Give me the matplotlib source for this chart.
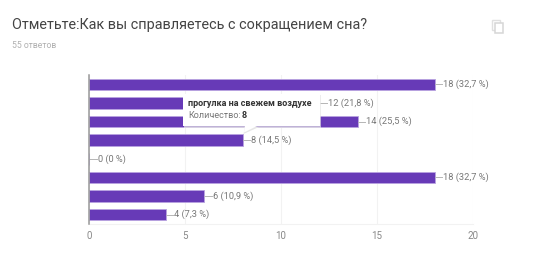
import matplotlib
matplotlib.use('Agg')
import matplotlib.pyplot as plt
from matplotlib.patches import Rectangle, Polygon

counts = [18, 12, 14, 8, 0, 18, 6, 4]
percents = ['32,7', '21,8', '25,5', '14,5', '0', '32,7', '10,9', '7,3']
x_ticks = [0, 5, 10, 15, 20]
title = 'Отметьте:Как вы справляетесь с сокращением сна?'
subtitle = '55 ответов'
tip_name = 'прогулка на свежем воздухе'
tip_label = 'Количество:'
tip_value = '8'

W, H = 533, 269
plt.rcParams['font.family'] = ['Roboto', 'DejaVu Sans']

fig = plt.figure(figsize=(W / 100, H / 100), dpi=100)
fig.patch.set_facecolor('white')

# Plot area in pixels: x 89-473, y 75-224
ax = fig.add_axes([89 / W, 1 - 224 / H, (473 - 89) / W, (224 - 75) / H])
positions = list(range(len(counts)))
ax.barh(positions, counts, height=0.62, color='#673ab7', edgecolor='#b9a3e0', linewidth=0.6, zorder=3)
ax.set_xlim(0, 20)
ax.set_ylim(len(counts) - 0.5, -0.5)
ax.set_yticks([])
ax.set_xticks(x_ticks)
ax.tick_params(axis='x', length=0, labelsize=7, labelcolor='#888888', pad=5)
ax.grid(axis='x', color='#f2f2f2', linewidth=0.8, zorder=0)
ax.set_axisbelow(True)
for side in ['top', 'right']:
    ax.spines[side].set_visible(False)
ax.spines['bottom'].set_color('#f2f2f2')
ax.spines['left'].set_color('#999999')
ax.spines['left'].set_linewidth(1.1)
ax.spines['left'].set_zorder(5)

# Value labels with leader lines
for pos, count, pct in zip(positions, counts, percents):
    ax.plot([count, count + 0.4], [pos, pos], color='#b5b5b5', linewidth=0.7, zorder=4, clip_on=False)
    ax.text(count + 0.45, pos, f'{count} ({pct} %)', fontsize=6.7, color='#777777', va='center', ha='left', zorder=4)

# Overlay in pixel coordinates for title, icon and tooltip
ov = fig.add_axes([0, 0, 1, 1], facecolor='none')
ov.set_xlim(0, W)
ov.set_ylim(H, 0)
ov.axis('off')

ov.text(12, 25, title, fontsize=10.4, color='#444444', va='center', ha='left')
ov.text(12, 46, subtitle, fontsize=6.2, color='#b0b0b0', va='center', ha='left')

# Copy icon
ov.add_patch(Rectangle((491.5, 19.5), 8, 10, facecolor='none', edgecolor='#e0e0e0', linewidth=1))
ov.add_patch(Rectangle((494.5, 22.5), 8, 10, facecolor='white', edgecolor='#d6d6d6', linewidth=1.1))

# Tooltip
ov.add_patch(Rectangle((184, 95), 137, 32.5, facecolor='#e6e6e6', edgecolor='none', alpha=0.7, zorder=6))
ov.add_patch(Polygon([(245, 127), (259, 127), (243.5, 134)], facecolor='#e6e6e6', edgecolor='none', zorder=7))
ov.add_patch(Rectangle((183, 94), 137, 32, facecolor='white', edgecolor='none', zorder=8))
ov.add_patch(Polygon([(245, 125.5), (258, 125.5), (244, 132.5)], facecolor='white', edgecolor='none', zorder=9))
ov.text(188, 103.5, tip_name, fontsize=6.5, fontweight='bold', color='#333333', va='center', ha='left', zorder=10)
ov.text(188, 115.5, tip_label, fontsize=6.5, color='#777777', va='center', ha='left', zorder=10)
ov.text(241.5, 115.5, tip_value, fontsize=6.5, fontweight='bold', color='#333333', va='center', ha='left', zorder=10)

fig.savefig('out.png', dpi=100)
